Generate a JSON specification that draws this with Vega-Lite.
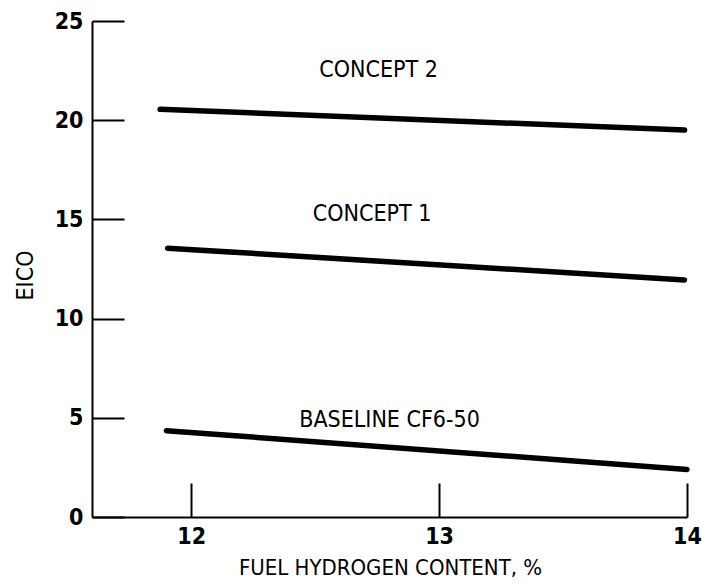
{
  "$schema": "https://vega.github.io/schema/vega-lite/v6.json",
  "width": 595,
  "height": 496,
  "autosize": {"type": "none"},
  "padding": {"left": 92, "top": 21, "right": 18, "bottom": 69},
  "background": "white",
  "config": {
    "view": {"stroke": null},
    "font": "DejaVu Sans Condensed, Liberation Sans Narrow, DejaVu Sans, sans-serif"
  },
  "datasets": {
    "lines": [
      {"series": "Concept 2", "h": 11.875, "eico": 20.55},
      {"series": "Concept 2", "h": 13.99, "eico": 19.5},
      {"series": "Concept 1", "h": 11.905, "eico": 13.55},
      {"series": "Concept 1", "h": 13.99, "eico": 11.95},
      {"series": "Baseline CF6-50", "h": 11.9, "eico": 4.35},
      {"series": "Baseline CF6-50", "h": 14.0, "eico": 2.4}
    ],
    "labels": [
      {"label": "CONCEPT 2", "h": 12.756, "eico": 22.55},
      {"label": "CONCEPT 1", "h": 12.73, "eico": 15.25},
      {"label": "BASELINE CF6-50", "h": 12.8, "eico": 4.9}
    ]
  },
  "layer": [
    {
      "data": {"name": "lines"},
      "mark": {"type": "line", "color": "black", "strokeWidth": 5.5, "strokeCap": "round"},
      "encoding": {
        "x": {
          "field": "h",
          "type": "quantitative",
          "scale": {"domain": [11.6, 14], "nice": false, "zero": false},
          "axis": {
            "values": [12, 13, 14],
            "format": "d",
            "tickSize": -34,
            "tickWidth": 2,
            "tickColor": "black",
            "domainColor": "black",
            "domainWidth": 2,
            "grid": false,
            "labelFontSize": 23,
            "labelColor": "black",
            "labelFontWeight": "bold",
            "labelPadding": 42,
            "labelFlush": false,
            "labelOverlap": false,
            "title": "FUEL HYDROGEN CONTENT, %",
            "titleFontSize": 22,
            "titleFontWeight": "normal",
            "titleColor": "black",
            "titleX": 298,
            "titleY": 50,
            "titleAlign": "center",
            "titleBaseline": "middle"
          }
        },
        "y": {
          "field": "eico",
          "type": "quantitative",
          "scale": {"domain": [0, 25], "nice": false},
          "axis": {
            "values": [0, 5, 10, 15, 20, 25],
            "format": "d",
            "tickSize": -32,
            "tickWidth": 2,
            "tickColor": "black",
            "domainColor": "black",
            "domainWidth": 2,
            "grid": false,
            "labelFontSize": 23,
            "labelColor": "black",
            "labelFontWeight": "bold",
            "labelPadding": 41,
            "labelFlush": false,
            "labelOverlap": false,
            "title": "EICO",
            "titleFontSize": 23,
            "titleFontWeight": "normal",
            "titleColor": "black",
            "titleX": -67,
            "titleY": 254,
            "titleAngle": -90,
            "titleAlign": "center",
            "titleBaseline": "middle"
          }
        },
        "detail": {"field": "series"}
      }
    },
    {
      "data": {"name": "labels"},
      "mark": {"type": "text", "fontSize": 23, "color": "black", "align": "center", "baseline": "middle"},
      "encoding": {
        "x": {"field": "h", "type": "quantitative"},
        "y": {"field": "eico", "type": "quantitative"},
        "text": {"field": "label"}
      }
    }
  ]
}
